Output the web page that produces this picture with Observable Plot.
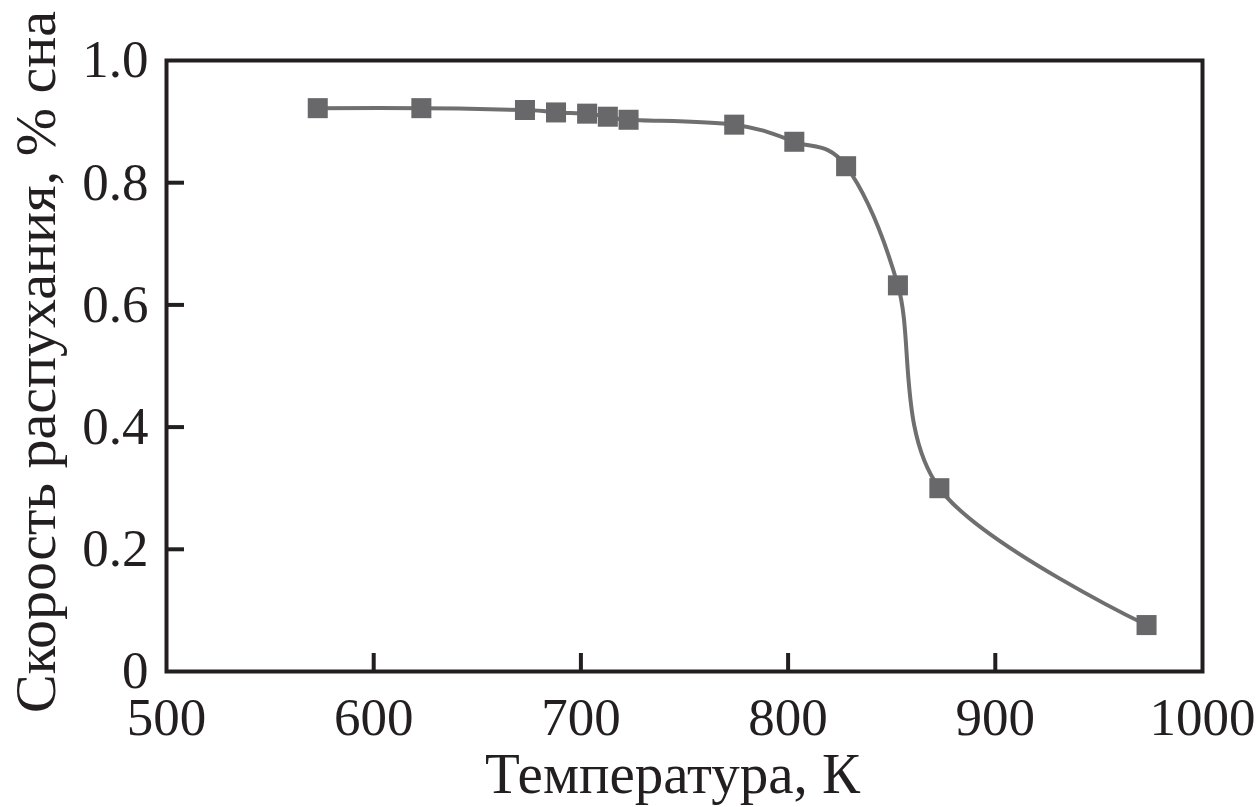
<!DOCTYPE html>
<html>
<head>
<meta charset="utf-8">
<script src="https://cdn.jsdelivr.net/npm/d3@7"></script>
<script src="https://cdn.jsdelivr.net/npm/@observablehq/plot@0.6"></script>
<style>
  html, body { margin: 0; padding: 0; background: #fff; }
  #chart svg { display: block; }
</style>
</head>
<body>
<div id="chart"></div>
<script>
// Temperature, K
const temperature = [573, 623, 673, 688, 703, 713, 723, 774, 803, 828, 853, 873, 973];
// Swelling rate, % per dpa
const swellingRate = [0.922, 0.922, 0.919, 0.915, 0.913, 0.908, 0.903, 0.895, 0.867, 0.827, 0.632, 0.300, 0.076];

const xTickLabels = [500, 600, 700, 800, 900, 1000];
const yTickLabels = [0, 0.2, 0.4, 0.6, 0.8, 1.0];
const xInnerTicks = [600, 700, 800, 900];
const yInnerTicks = [0.2, 0.4, 0.6, 0.8];

const xLabel = "Температура, К";
const yLabel = "Скорость распухания, % сна";

const data = temperature.map((t, i) => ({t, s: swellingRate[i]}));

const ink = "#231f20";
const font = "'Liberation Serif', 'DejaVu Serif', serif";

const chart = Plot.plot({
  width: 1259,
  height: 807,
  marginLeft: 166,
  marginRight: 57,
  marginTop: 60,
  marginBottom: 136,
  style: {fontFamily: font, color: ink, background: "#fff"},
  x: {domain: [500, 1000]},
  y: {domain: [0, 1]},
  marks: [
    // tick labels
    Plot.axisX(xTickLabels, {tickSize: 0, tickPadding: 26, fontSize: 53, fill: ink, label: null, tickFormat: d => String(d)}),
    Plot.axisY(yTickLabels, {tickSize: 0, tickPadding: 18, fontSize: 53, fill: ink, label: null, tickFormat: d => d === 0 ? "0" : d.toFixed(1)}),
    // inward ticks
    Plot.axisX(xInnerTicks, {tickSize: -18, text: null, stroke: ink, strokeWidth: 4, label: null}),
    Plot.axisY(yInnerTicks, {tickSize: -18, text: null, stroke: ink, strokeWidth: 4, label: null}),
    Plot.frame({stroke: ink, strokeWidth: 4}),
    Plot.line(data, {x: "t", y: "s", curve: "cardinal", stroke: "#6f6f70", strokeWidth: 4}),
    Plot.dot(data, {x: "t", y: "s", symbol: "square", r: 11.3, fill: "#68686a", stroke: "none"}),
    // axis titles
    Plot.text([xLabel], {frameAnchor: "bottom", textAnchor: "middle", lineAnchor: "bottom", dx: -12, dy: 121, text: d => d, fontSize: 57, letterSpacing: 1.2, fill: ink}),
    Plot.text([yLabel], {frameAnchor: "left", textAnchor: "middle", lineAnchor: "bottom", dx: -112, dy: -4, rotate: -90, text: d => d, fontSize: 58, letterSpacing: 1, fill: ink})
  ]
});

document.getElementById("chart").appendChild(chart);
</script>
</body>
</html>
